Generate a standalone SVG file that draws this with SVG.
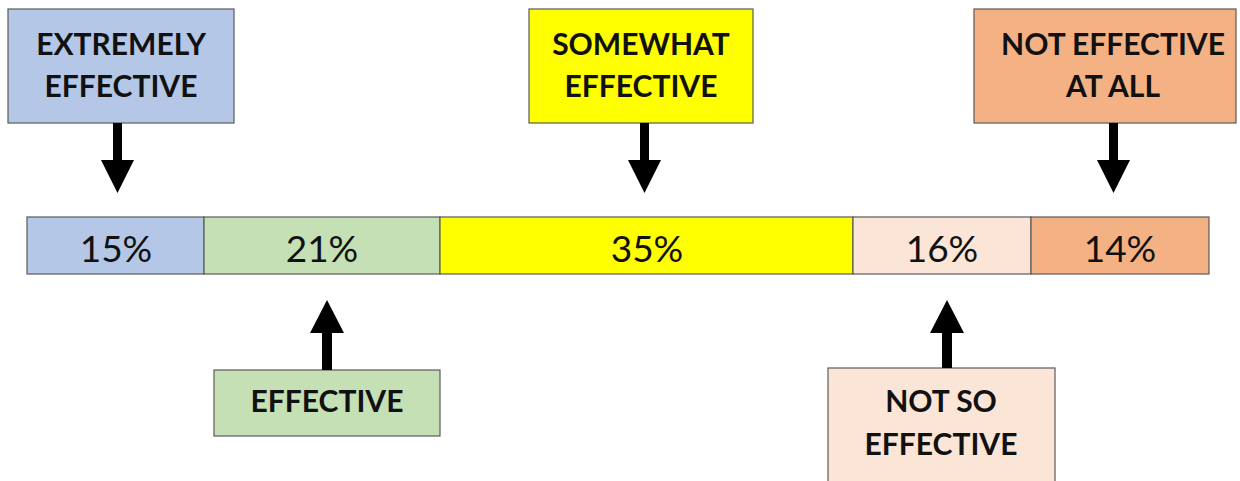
<svg xmlns="http://www.w3.org/2000/svg" width="1240" height="481" viewBox="0 0 1240 481">
<style>
.box{stroke:#5a5a5a;stroke-width:1.2}
.lbl{font-family:Lato,"Liberation Sans",sans-serif;font-weight:bold;font-size:30px;fill:#111;text-anchor:middle}
.pct{font-family:Lato,"Liberation Sans",sans-serif;font-size:37px;fill:#111;text-anchor:middle}
.arr{fill:#000}
</style>
<rect width="1240" height="481" fill="#fff"/>
<g id="bar">
<rect class="box" x="27" y="217" width="177" height="57" fill="#B4C7E7"/>
<rect class="box" x="204" y="217" width="236" height="57" fill="#C5E0B4"/>
<rect class="box" x="440" y="217" width="413" height="57" fill="#FFFF00"/>
<rect class="box" x="853" y="217" width="178" height="57" fill="#FBE5D6"/>
<rect class="box" x="1031" y="217" width="178" height="57" fill="#F4B183"/>
<text class="pct" x="116" y="262">15%</text>
<text class="pct" x="322" y="262">21%</text>
<text class="pct" x="647" y="262">35%</text>
<text class="pct" x="942" y="262">16%</text>
<text class="pct" x="1120" y="262">14%</text>
</g>
<g id="n-extremely">
<rect class="box" x="8" y="9" width="226" height="114" fill="#B4C7E7"/>
<text class="lbl" x="121" y="55">EXTREMELY</text>
<text class="lbl" x="121" y="97">EFFECTIVE</text>
</g>
<g id="n-somewhat">
<rect class="box" x="529" y="9" width="224" height="114" fill="#FFFF00"/>
<text class="lbl" x="641" y="55">SOMEWHAT</text>
<text class="lbl" x="641" y="97">EFFECTIVE</text>
</g>
<g id="n-notatall">
<rect class="box" x="974" y="9" width="262" height="114" fill="#F4B183"/>
<text class="lbl" x="1113" y="55">NOT EFFECTIVE</text>
<text class="lbl" x="1113" y="97">AT ALL</text>
</g>
<g id="n-effective">
<rect class="box" x="214" y="370" width="226" height="66" fill="#C5E0B4"/>
<text class="lbl" x="327" y="412">EFFECTIVE</text>
</g>
<g id="n-notso">
<rect class="box" x="828" y="368" width="227" height="116" fill="#FBE5D6"/>
<text class="lbl" x="941" y="412">NOT SO</text>
<text class="lbl" x="941" y="455">EFFECTIVE</text>
</g>
<g id="connectors">
<polygon class="arr" points="113,123 122,123 122,160 134,160 117.5,193 101,160 113,160"/>
<polygon class="arr" points="640,123 649,123 649,160 661,160 644.5,193 628,160 640,160"/>
<polygon class="arr" points="1109,123 1118,123 1118,160 1130,160 1113.5,193 1097,160 1109,160"/>
<polygon class="arr" points="322,370 332,370 332,333 344,333 327,300 310,333 322,333"/>
<polygon class="arr" points="942,368 952,368 952,333 964,333 947,300 930,333 942,333"/>
</g>
</svg>
